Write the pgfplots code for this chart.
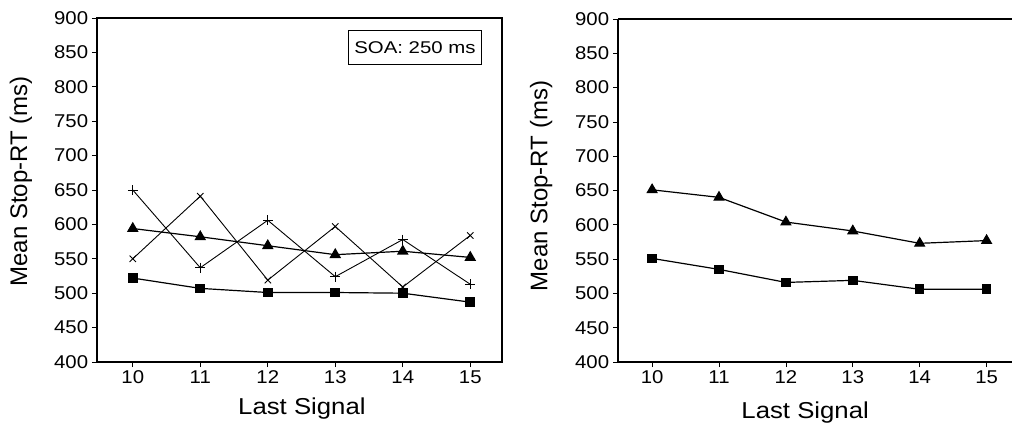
\documentclass[border=0pt]{standalone}
\usepackage{fontspec}
\setmainfont{Liberation Sans}
\usepackage{pgfplots}
\pgfplotsset{compat=1.18}

\pgfplotsset{
  stopstyle/.style={
    scale only axis,
    ymin=400, ymax=900,
    ytick={400,450,...,900},
    xtick={10,...,15},
    tick align=outside,
    tick pos=left,
    major tick length=5pt,
    every tick/.style={black, line width=0.8pt},
    axis line style={line width=1.2pt},
    /pgf/number format/assume math mode=true,
    ticklabel style={font=\fontsize{18.5}{18.5}\selectfont, xscale=1.1},
    every axis plot/.append style={black, line width=1.2pt},
    ylabel={Mean Stop-RT (ms)},
    xlabel={Last Signal},
  }
}

\begin{document}
\begin{tikzpicture}
\path[use as bounding box] (-97pt,-61pt) rectangle (915pt,362pt);

% left panel
\begin{axis}[stopstyle,
  at={(0pt,0pt)}, anchor=south west,
  width=405pt, height=344pt,
  xmin=9.47, xmax=15.47,
  every axis y label/.style={at={(axis description cs:-0.188,0.525)}, rotate=90, anchor=center,
    font=\fontsize{24}{24}\selectfont},
  every axis x label/.style={at={(axis description cs:0.506,-0.154)}, anchor=base, xscale=1.12,
    font=\fontsize{23}{23}\selectfont},
]
\addplot[mark=square*, mark size=4.2pt] coordinates {(10,522) (11,507) (12,501) (13,501) (14,500) (15,487)};
\addplot[mark=triangle*, mark size=5.5pt] coordinates {(10,594) (11,582) (12,569) (13,556) (14,561) (15,552)};
\addplot[mark=+, mark size=5pt, line width=0.9pt] coordinates {(10,650) (11,537) (12,606) (13,524) (14,578) (15,513)};
\addplot[mark=x, mark size=4.5pt, line width=0.9pt] coordinates {(10,550) (11,641) (12,519) (13,597) (14,509) (15,584)};
\node[draw, line width=0.9pt, anchor=north east, inner xsep=5pt, inner ysep=11pt,
      text height=12.2pt, text depth=0pt,
      font=\fontsize{17}{17}\selectfont, xscale=1.2]
  at (rel axis cs:0.951,0.965) {SOA: 250 ms};
\end{axis}

% right panel
\begin{axis}[stopstyle,
  at={(521pt,0pt)}, anchor=south west,
  width=394pt, height=343pt,
  xmin=9.49, xmax=15.38,
  axis x line*=bottom, axis y line*=left,
  clip=false,
  every axis y label/.style={at={(axis description cs:-0.195,0.513)}, rotate=90, anchor=center,
    font=\fontsize{24}{24}\selectfont},
  every axis x label/.style={at={(axis description cs:0.475,-0.165)}, anchor=base, xscale=1.12,
    font=\fontsize{23}{23}\selectfont},
]
\addplot[mark=square*, mark size=4.2pt] coordinates {(10,551) (11,535) (12,516) (13,519) (14,506) (15,506)};
\addplot[mark=triangle*, mark size=5.5pt] coordinates {(10,651) (11,640) (12,604) (13,591) (14,573) (15,577)};
\draw[line width=1.2pt] (rel axis cs:0,1) -- (rel axis cs:1.05,1);
\end{axis}
\end{tikzpicture}
\end{document}
